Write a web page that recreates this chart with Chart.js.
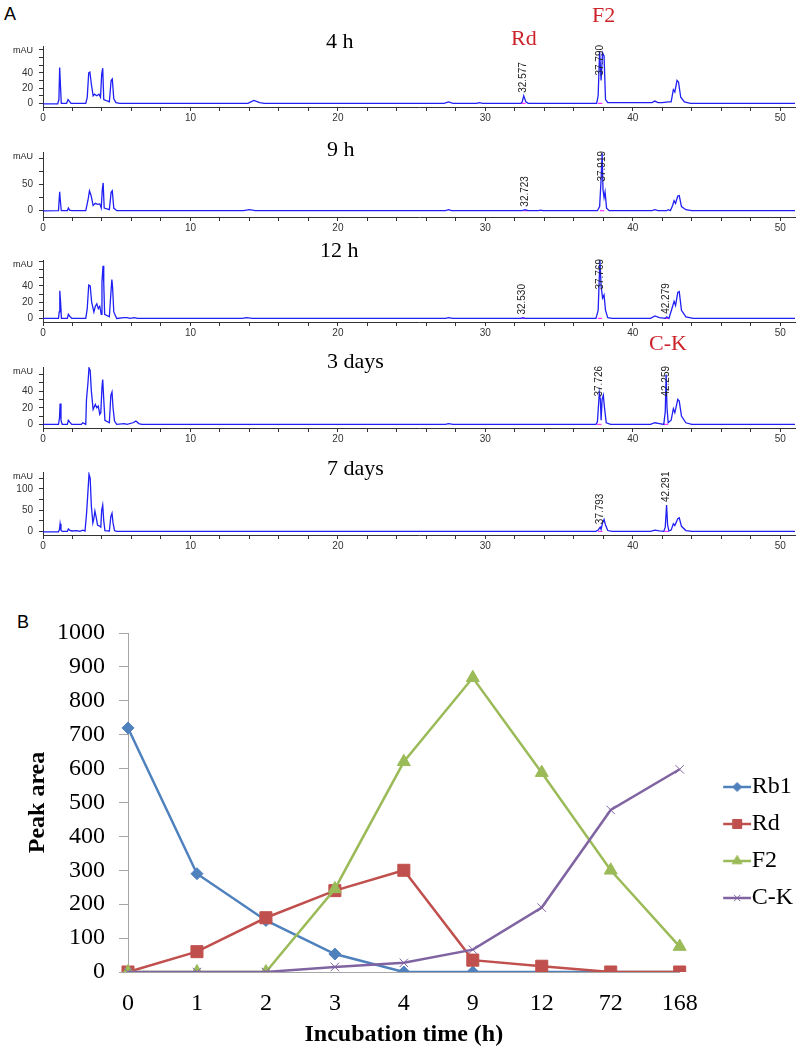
<!DOCTYPE html>
<html>
<head>
<meta charset="utf-8">
<script src="https://cdn.jsdelivr.net/npm/chart.js@4.4.0/dist/chart.umd.min.js"></script>
<style>
  body { margin: 0; background: #fff; }
  #page { position: relative; width: 798px; height: 1052px; overflow: hidden; font-family: Arial, 'Liberation Sans', sans-serif; }
  .txt { position: absolute; white-space: nowrap; line-height: 1; }
  .serif { font-family: 'Liberation Serif', 'Times New Roman', serif; }
  canvas { position: absolute; left: 0; }
</style>
</head>
<body>
<div id="page"></div>
<script>
// ---------- panel A : chromatograms (time in min, signal in mAU) ----------
const runTitles = ['4 h', '9 h', '12 h', '3 days', '7 days'];

const trace4h = [[0,-0.5],[1.0,-0.5],[1.08,5],[1.13,47],[1.18,25],[1.24,0],[1.6,0],[1.7,5],[1.78,3],[1.9,0],[2.9,0],[3.0,8],[3.1,40],[3.18,41],[3.28,25],[3.4,10],[3.5,12],[3.65,10],[3.8,12],[3.9,8],[3.98,38],[4.05,46],[4.12,5],[4.5,2],[4.62,30],[4.7,32],[4.8,6],[4.95,1],[5.2,0],[13.9,0],[14.3,4],[14.7,1],[15.0,0],[27.2,0],[27.5,2],[27.8,0],[29.4,0],[29.6,1],[29.8,0],[32.4,0],[32.5,2],[32.6,10],[32.75,2],[32.9,0],[37.55,0],[37.65,10],[37.75,68],[37.85,30],[37.95,66],[38.05,62],[38.15,5],[38.3,1],[38.5,1],[41.3,1],[41.5,3],[41.7,1],[42.0,1],[42.4,2],[42.6,2],[42.75,18],[42.85,15],[43.0,30],[43.1,28],[43.25,8],[43.5,2],[43.9,0],[51,0]];
const trace9h = [[0,-0.5],[1.05,0],[1.13,36],[1.18,18],[1.24,0],[1.65,0],[1.72,5],[1.8,1],[1.95,0],[2.9,0],[3.05,20],[3.15,38],[3.25,30],[3.4,10],[3.55,14],[3.7,12],[3.85,13],[3.95,5],[4.02,40],[4.08,53],[4.15,5],[4.5,2],[4.62,35],[4.7,38],[4.8,5],[5.0,0],[13.6,0],[14.0,2],[14.4,0],[27.3,0],[27.5,2],[27.7,0],[32.5,0],[32.7,2],[32.9,0],[33.6,0],[33.75,1],[33.9,0],[37.6,0],[37.75,8],[37.85,60],[37.92,110],[37.98,40],[38.05,25],[38.12,36],[38.22,5],[38.4,0],[41.3,0],[41.5,2],[41.7,0],[42.3,0],[42.4,2],[42.55,0],[42.7,10],[42.8,19],[42.9,14],[43.05,28],[43.15,29],[43.3,8],[43.6,2],[44.0,0],[51,0]];
const trace12h = [[0,0],[1.05,0],[1.1,8],[1.14,34],[1.2,18],[1.25,0],[1.65,0],[1.72,5],[1.8,3],[1.95,0],[2.9,0],[3.0,12],[3.1,41],[3.2,40],[3.3,20],[3.45,8],[3.55,15],[3.65,18],[3.75,12],[3.85,15],[3.95,5],[4.0,45],[4.07,65],[4.12,44],[4.18,5],[4.5,2],[4.6,30],[4.67,48],[4.72,38],[4.8,8],[5.0,0],[5.5,1],[5.7,1],[5.9,0],[6.2,1],[6.4,0],[13.5,0],[13.8,1],[14.2,0],[27.3,0],[27.5,1],[27.8,0],[32.4,0],[32.55,1],[32.7,0],[37.5,0],[37.65,10],[37.77,72],[37.85,40],[37.95,25],[38.05,29],[38.15,10],[38.3,1],[38.6,0],[41.2,0],[41.5,3],[41.8,1],[42.2,0],[42.3,2],[42.45,0],[42.65,12],[42.8,21],[42.9,16],[43.05,32],[43.15,33],[43.3,10],[43.6,2],[44.1,0],[51,0]];
const trace3d = [[0,0],[1.05,0],[1.12,8],[1.16,25],[1.22,5],[1.3,0],[1.65,0],[1.72,5],[1.8,3],[1.95,0],[2.6,0],[2.7,2],[2.9,0],[2.95,30],[3.05,50],[3.12,68],[3.2,65],[3.28,40],[3.4,18],[3.55,24],[3.65,20],[3.75,22],[3.85,12],[3.92,14],[4.0,45],[4.05,54],[4.12,30],[4.2,5],[4.5,2],[4.6,35],[4.68,39],[4.75,20],[4.85,4],[5.0,0],[5.5,1],[5.7,0],[6.1,2],[6.3,4],[6.5,1],[6.7,0],[27.3,0],[27.5,1],[27.8,0],[37.5,0],[37.6,3],[37.73,38],[37.8,30],[37.85,5],[37.92,30],[38.0,35],[38.08,20],[38.2,2],[38.5,0],[41.2,0],[41.5,2],[41.8,1],[42.1,0],[42.2,15],[42.26,60],[42.32,20],[42.4,2],[42.6,5],[42.75,19],[42.85,14],[43.05,30],[43.15,28],[43.3,10],[43.6,2],[44.0,0],[51,0]];
const trace7d = [[0,-1],[1.05,-1],[1.12,5],[1.16,18],[1.22,3],[1.3,0],[1.65,0],[1.72,6],[1.8,3],[1.95,1],[2.3,2],[2.5,0],[2.7,3],[2.85,1],[2.95,40],[3.05,95],[3.12,135],[3.2,125],[3.28,60],[3.38,20],[3.45,30],[3.52,48],[3.6,35],[3.7,15],[3.85,12],[3.92,10],[3.98,50],[4.05,62],[4.12,25],[4.2,2],[4.5,1],[4.6,35],[4.68,43],[4.75,20],[4.85,2],[5.0,0],[37.5,0],[37.65,3],[37.79,10],[37.85,5],[37.95,20],[38.05,28],[38.15,15],[38.3,2],[38.6,0],[41.2,0],[41.5,3],[41.8,1],[42.1,0],[42.2,10],[42.29,62],[42.36,15],[42.45,1],[42.6,3],[42.75,18],[42.85,14],[43.05,30],[43.15,32],[43.3,12],[43.6,2],[44.0,0],[51,0]];
const runTraces = [trace4h, trace9h, trace12h, trace3d, trace7d];

// retention-time labels printed by the integrator
const runPeaks = [
  ['32.577', '37.790'],
  ['32.723', '37.919'],
  ['32.530', '37.769', '42.279'],
  ['37.726', '42.259'],
  ['37.793', '42.291']
];

const runYMin = [-4.7, -12, -4.4, -4.3, -8.5];
const runYMax = [75, 112, 72, 69, 140];
const runYTicks = [
  [0, 10, 20, 30, 40, 50, 60, 70],
  [0, 25, 50, 75, 100],
  [0, 10, 20, 30, 40, 50, 60, 70],
  [0, 10, 20, 30, 40, 50, 60],
  [0, 25, 50, 75, 100, 125]
];
const runYLabels = [[0, 20, 40], [0, 50], [0, 20, 40], [0, 20, 40], [0, 50, 100]];
const timeTicks = [0,2,4,6,8,10,12,14,16,18,20,22,24,26,28,30,32,34,36,38,40,42,44,46,48,50];

// compound names in red over the peaks
const compoundNames = ['Rd', 'F2', 'C-K'];

// ---------- panel B : peak areas ----------
const incubationTimes = ['0', '1', '2', '3', '4', '9', '12', '72', '168'];
const rb1Area = [720, 290, 152, 53, 0, 0, 0, 0, 0];
const rdArea  = [0, 60, 160, 240, 300, 35, 17, 0, 0];
const f2Area  = [0, 0, 0, 245, 620, 868, 588, 300, 75];
const ckArea  = [0, 0, 0, 15, 27, 66, 190, 478, 598];
const seriesNames = ['Rb1', 'Rd', 'F2', 'C-K'];

const page = document.getElementById('page');

function addText(txt, left, top, size, cls, color) {
  const d = document.createElement('div');
  d.className = 'txt ' + (cls || '');
  d.textContent = txt;
  d.style.left = left + 'px';
  d.style.top = top + 'px';
  d.style.fontSize = size + 'px';
  if (color) d.style.color = color;
  page.appendChild(d);
  return d;
}

function addCanvas(top, height) {
  const c = document.createElement('canvas');
  c.width = 798;
  c.height = height;
  c.style.top = top + 'px';
  page.appendChild(c);
  return c;
}

const peakLabels = {
  id: 'peakLabels',
  beforeDatasetsDraw(chart, args, opts) {
    const { ctx, scales: { x, y } } = chart;
    ctx.save();
    ctx.strokeStyle = '#ff33ff';
    ctx.lineWidth = 1.2;
    opts.peaks.forEach(lbl => {
      const t = parseFloat(lbl);
      ctx.beginPath();
      ctx.moveTo(x.getPixelForValue(t - 0.15), y.getPixelForValue(0));
      ctx.lineTo(x.getPixelForValue(t + 0.15), y.getPixelForValue(0));
      ctx.stroke();
    });
    ctx.restore();
  },
  afterDatasetsDraw(chart, args, opts) {
    const { ctx, chartArea, scales: { x, y } } = chart;
    const pts = chart.data.datasets[0].data;
    ctx.save();
    ctx.fillStyle = '#222';
    ctx.font = '9px Arial';
    ctx.textAlign = 'right';
    ctx.textBaseline = 'middle';
    ctx.fillText('mAU', 33, chartArea.top + 5);
    ctx.font = '10px Arial';
    opts.peaks.forEach(lbl => {
      const t = parseFloat(lbl);
      let apex = 0;
      pts.forEach(p => { if (Math.abs(p.x - t) <= 0.1 && p.y > apex) apex = p.y; });
      const w = ctx.measureText(lbl).width;
      const bottom = Math.max(y.getPixelForValue(apex) - 3, chartArea.top - 1 + w);
      ctx.save();
      ctx.translate(x.getPixelForValue(t), bottom);
      ctx.rotate(-Math.PI / 2);
      ctx.textAlign = 'left';
      ctx.fillText(lbl, 0, 0);
      ctx.restore();
    });
    ctx.restore();
  }
};

// plot-area top and x-axis line of each chromatogram
const runBoxes = [[39, 107], [145, 217], [253, 322], [360, 428], [465, 535]];

runTraces.forEach((trace, i) => {
  const [top, axis] = runBoxes[i];
  const canvas = addCanvas(top - 5, axis - top + 25);
  new Chart(canvas, {
    type: 'line',
    data: {
      datasets: [{
        data: trace.map(p => ({ x: p[0], y: p[1] })),
        borderColor: '#2020f4',
        borderWidth: 1.3,
        pointRadius: 0,
        tension: 0
      }]
    },
    options: {
      responsive: false,
      animation: false,
      layout: { padding: { top: 5, right: 3, left: 0, bottom: 0 } },
      plugins: {
        legend: { display: false },
        tooltip: { enabled: false },
        peakLabels: { peaks: runPeaks[i] }
      },
      scales: {
        x: {
          type: 'linear',
          min: 0,
          max: 51,
          afterFit: s => { s.height = 20; },
          afterBuildTicks: s => { s.ticks = timeTicks.map(v => ({ value: v })); },
          ticks: {
            autoSkip: false,
            maxRotation: 0,
            padding: 1,
            color: '#333',
            font: { family: 'Arial', size: 10 },
            callback: v => (v % 10 === 0 ? String(v) : '')
          },
          grid: { drawOnChartArea: false, tickLength: 4, color: '#333' },
          border: { color: '#333' }
        },
        y: {
          min: runYMin[i],
          max: runYMax[i],
          afterFit: s => { s.width = 43; },
          afterBuildTicks: s => { s.ticks = runYTicks[i].map(v => ({ value: v })); },
          ticks: {
            autoSkip: false,
            padding: 6,
            color: '#333',
            font: { family: 'Arial', size: 10 },
            callback: v => (runYLabels[i].includes(v) ? String(v) : '')
          },
          grid: { drawOnChartArea: false, tickLength: 4, color: '#333' },
          border: { color: '#333' }
        }
      }
    },
    plugins: [peakLabels]
  });
});

addText('A', 4, 5, 18);
const titleLeft = [326, 327, 320, 327, 327];
const titleMid = [41, 149, 250, 361, 468];
runTitles.forEach((t, i) => addText(t, titleLeft[i], titleMid[i] - 11, 22, 'serif'));
const nameSpots = [[511, 38], [592, 15], [649, 343]];
compoundNames.forEach((n, i) => addText(n, nameSpots[i][0], nameSpots[i][1] - 11, 22, 'serif', '#cc2229'));

// ---------- panel B ----------
addText('B', 17, 613, 18);

const serif = "'Liberation Serif', 'Times New Roman', serif";
const seriesColors = ['#4F81BD', '#C0504D', '#9BBB59', '#8064A2'];
const seriesMarkers = ['rectRot', 'rect', 'triangle', 'crossRot'];
const markerRadius = [6, 8.5, 7.5, 6];

function legendIcon(i) {
  const c = document.createElement('canvas');
  c.width = 70;
  c.height = 16;
  const g = c.getContext('2d');
  g.strokeStyle = seriesColors[i];
  g.fillStyle = seriesColors[i];
  g.lineWidth = 2.5;
  g.beginPath();
  g.moveTo(42, 8);
  g.lineTo(70, 8);
  g.stroke();
  g.lineWidth = 1;
  Chart.helpers.drawPoint(g, { pointStyle: seriesMarkers[i], radius: markerRadius[i] * 0.75, rotation: 0, borderWidth: 1 }, 56, 8);
  return c;
}
const legendIcons = seriesNames.map((n, i) => legendIcon(i));

const areaSeries = [rb1Area, rdArea, f2Area, ckArea];
new Chart(addCanvas(595, 457), {
  type: 'line',
  data: {
    labels: incubationTimes,
    datasets: areaSeries.map((vals, i) => ({
      label: seriesNames[i],
      data: vals,
      order: 4 - i,
      borderColor: seriesColors[i],
      backgroundColor: seriesColors[i],
      borderWidth: 2.5,
      tension: 0,
      pointStyle: seriesMarkers[i],
      pointRadius: markerRadius[i],
      pointBackgroundColor: seriesColors[i],
      pointBorderColor: seriesColors[i],
      pointBorderWidth: 1
    }))
  },
  options: {
    responsive: false,
    animation: false,
    layout: { padding: { top: 38, right: -5, left: 0, bottom: 0 } },
    plugins: {
      tooltip: { enabled: false },
      legend: {
        position: 'right',
        align: 'center',
        labels: {
          usePointStyle: true,
          pointStyleWidth: 47,
          padding: 13,
          color: '#000',
          font: { family: serif, size: 24 },
          sort: (a, b) => a.datasetIndex - b.datasetIndex,
          generateLabels: chart => {
            const items = Chart.defaults.plugins.legend.labels.generateLabels(chart);
            items.forEach(it => { it.pointStyle = legendIcons[it.datasetIndex]; });
            return items;
          }
        }
      }
    },
    scales: {
      x: {
        offset: false,
        afterFit: s => { s.height = 80; },
        grid: { display: false, drawTicks: false },
        border: { display: true, color: '#a6a6a6' },
        ticks: { padding: 17, color: '#000', font: { family: serif, size: 24 } },
        title: {
          display: true,
          text: 'Incubation time (h)',
          color: '#000',
          font: { family: serif, size: 24, weight: 'bold' },
          padding: { top: 0, bottom: 3 }
        }
      },
      y: {
        min: 0,
        max: 1000,
        afterFit: s => { s.width = 128; },
        grid: { drawOnChartArea: false, tickLength: 9, color: '#a6a6a6' },
        border: { color: '#a6a6a6' },
        ticks: { stepSize: 100, padding: 14, color: '#000', font: { family: serif, size: 24 }, callback: v => String(v) },
        title: {
          display: true,
          text: 'Peak area',
          color: '#000',
          font: { family: serif, size: 24, weight: 'bold' },
          padding: { top: 23, bottom: 0 }
        }
      }
    }
  }
});
</script>
</body>
</html>
